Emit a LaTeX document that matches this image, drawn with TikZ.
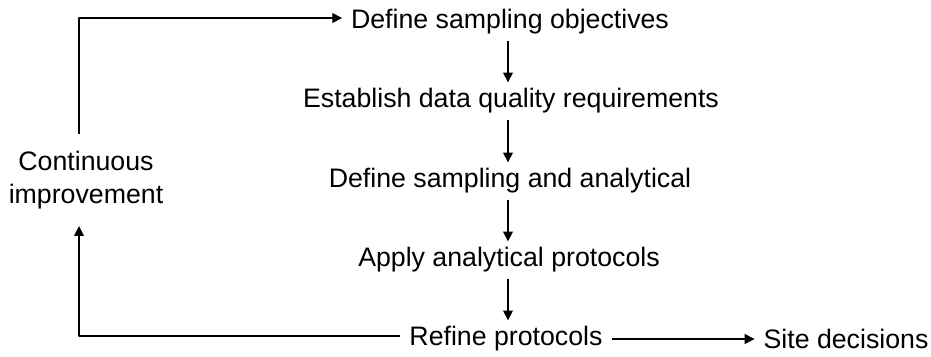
\documentclass[tikz,border=0pt]{standalone}
\usepackage{fontspec}
\setmainfont{Liberation Sans}
\usetikzlibrary{arrows.meta}
\begin{document}
\begin{tikzpicture}[x=0.025cm, y=-0.025cm, font=\fontsize{19}{23}\selectfont, line width=0.8pt, line join=round, >={Triangle[length=7pt,width=7pt]}]
	\useasboundingbox (0,0) rectangle (931,356);
	\tikzset{lbl/.style={inner xsep=6pt, inner ysep=4pt, align=center}}
	\path
	(510,22) node[lbl] (obj) {Define sampling objectives}
	(511,101) node[lbl] (dq) {Establish data quality requirements}
	(510,181) node[lbl] (sa) {Define sampling and analytical}
	(509,260) node[lbl] (ap) {Apply analytical protocols}
	(506,339) node[lbl] (rp) {Refine protocols}
	(846,339) node[lbl] (sd) {Site decisions}
	(86,180) node[lbl, inner ysep=12pt] (ci) {Continuous\\improvement}
	(79,18) coordinate (tl)
	(79,336) coordinate (bl)
	;
	\foreach \a/\b in {obj/dq,dq/sa,sa/ap,ap/rp}
		{\draw[->] (\a.south -| 508,0) -- (\b.north -| 508,0);}
	\draw[->] (rp.east) -- (sd.west);
	\draw[->] (ci.north -| tl) -- (tl) -- (obj.west |- tl);
	\draw[->] (rp.west |- bl) -- (bl) -- (ci.south -| bl);
\end{tikzpicture}
\end{document}
